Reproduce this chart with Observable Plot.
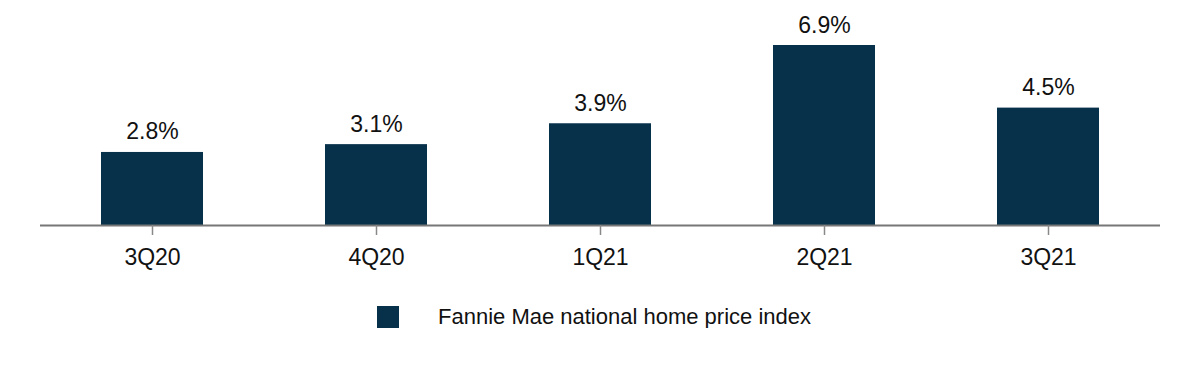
<!DOCTYPE html>
<html>
<head>
<meta charset="utf-8">
<script src="https://cdn.jsdelivr.net/npm/d3@7"></script>
<script src="https://cdn.jsdelivr.net/npm/@observablehq/plot@0.6"></script>
<style>
  body { margin: 0; background: #fff; font-family: "Liberation Sans", Arial, sans-serif; }
  #legend { display: flex; align-items: center; margin-left: 377px; margin-top: 26px; height: 22px; }
  #legend .sw { width: 22px; height: 22px; background: #07304b; }
  #legend .lb { margin-left: 39px; font-size: 22px; color: #111; }
</style>
</head>
<body>
<div id="chart"></div>
<div id="legend"><div class="sw"></div><div class="lb">Fannie Mae national home price index</div></div>
<script>
const quarters = ["3Q20", "4Q20", "1Q21", "2Q21", "3Q21"];
const values = [2.8, 3.1, 3.9, 6.9, 4.5];
const labels = ["2.8%", "3.1%", "3.9%", "6.9%", "4.5%"];
const seriesName = "Fannie Mae national home price index";

const data = quarters.map((q, i) => ({q, v: values[i], label: labels[i]}));
const color = "#07304b";

const chart = Plot.plot({
  width: 1200,
  height: 280,
  marginLeft: 40,
  marginRight: 40,
  marginTop: 45,
  marginBottom: 55,
  style: {fontFamily: "'Liberation Sans', Arial, sans-serif", fontSize: "23px", color: "#111", background: "#fff"},
  x: {domain: quarters, paddingInner: 0.545, paddingOuter: 0.2725, label: null},
  y: {domain: [0, 6.9], axis: null},
  marks: [
    Plot.barY(data, {x: "q", y: "v", fill: color}),
    Plot.ruleY([0], {stroke: "#777", strokeWidth: 2}),
    Plot.axisX({tickSize: 10, tickPadding: 13, stroke: "#888", strokeWidth: 1.5, fontSize: 23, fill: "#111"}),
    Plot.text(data, {x: "q", y: "v", text: "label", lineAnchor: "bottom", dy: -13, fontSize: 23, fill: "#111"})
  ]
});
document.getElementById("chart").appendChild(chart);
</script>
</body>
</html>
